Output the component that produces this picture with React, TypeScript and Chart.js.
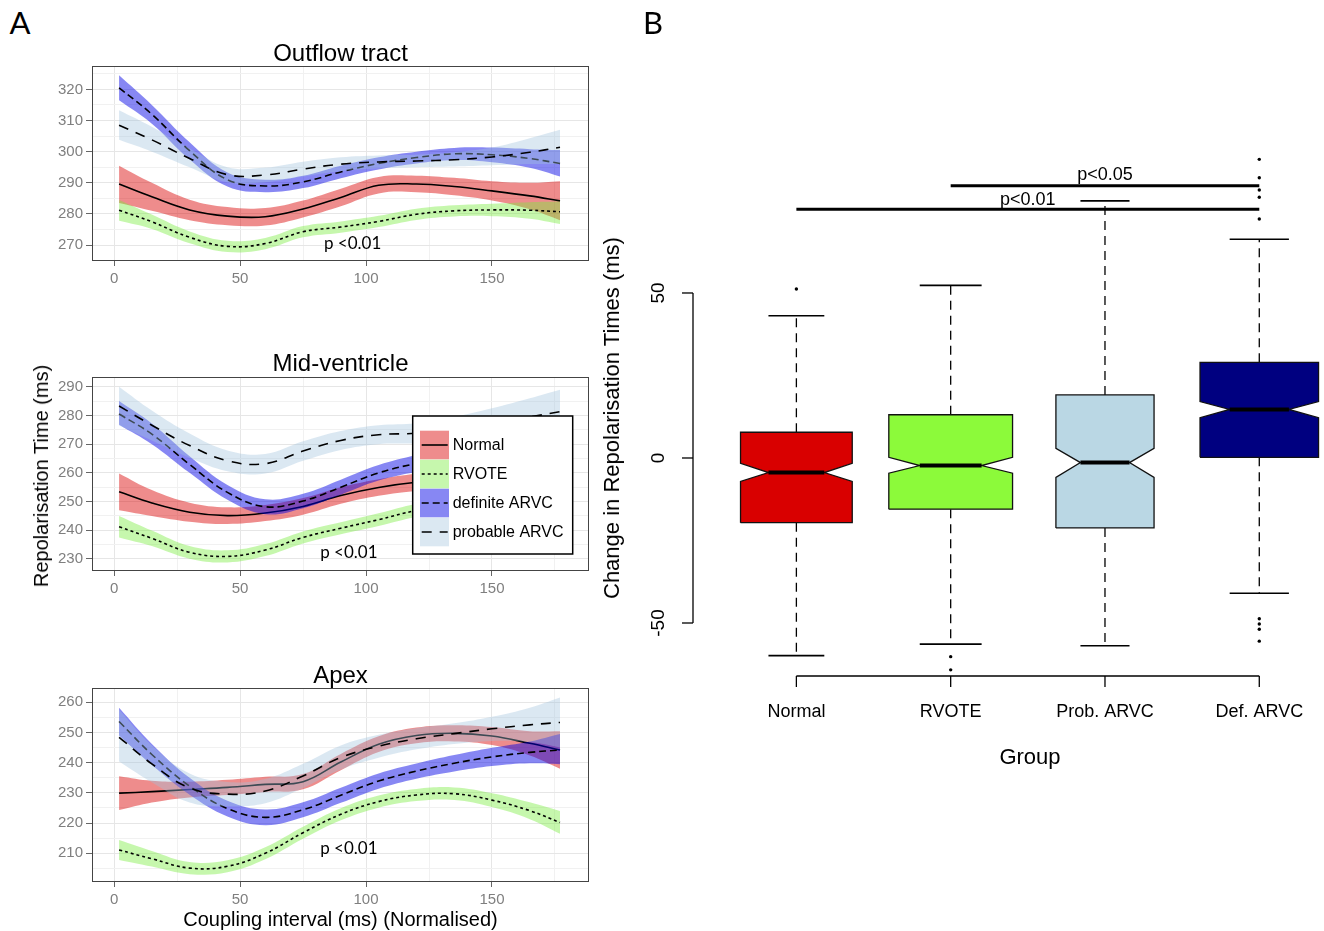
import React, { useEffect, useRef } from "react";
import { Chart, registerables } from "chart.js";

Chart.register(...registerables);

const FONT = '"Liberation Sans", Arial, Helvetica, sans-serif';
const NOTE_FONT = 'Lato, "Liberation Sans", Arial, sans-serif';

// ---------------- Panel A data ----------------
const couplingX = [2, 15, 30, 45, 60, 75, 90, 105, 120, 135, 150, 165, 177];
const groupLabels = ["Normal", "RVOTE", "definite ARVC", "probable ARVC"];
const xTickLabels = [0, 50, 100, 150];
const xMinorTicks = [25, 75, 125, 175];
const noteText = "p <0.01";

// Outflow tract
const outflowTicks = [270, 280, 290, 300, 310, 320];
const outflowMinorTicks = [265, 275, 285, 295, 305, 315, 325];
const outflowNormalMean = [289.6, 285.5, 281.3, 279.3, 279.1, 281.6, 285.3, 289.2, 289.6, 288.8, 287.4, 285.8, 284.2];
const outflowNormalLow = [283.5, 281.0, 278.0, 276.4, 276.3, 278.9, 282.5, 286.6, 287.0, 286.0, 284.3, 281.5, 278.0];
const outflowNormalHigh = [295.5, 290.0, 284.6, 282.2, 281.9, 284.3, 288.1, 291.9, 292.3, 291.6, 290.5, 290.0, 290.5];
const outflowRvoteMean = [281.2, 277.5, 272.5, 269.6, 270.5, 274.3, 275.8, 277.6, 279.9, 281.0, 281.3, 281.2, 280.7];
const outflowRvoteLow = [277.8, 275.2, 270.6, 267.8, 268.7, 272.5, 274.0, 275.8, 278.1, 279.2, 279.3, 278.5, 276.8];
const outflowRvoteHigh = [284.5, 279.8, 274.4, 271.4, 272.3, 276.1, 277.6, 279.4, 281.7, 282.8, 283.3, 283.8, 284.0];
const outflowDefMean = [320.5, 312.0, 300.3, 291.0, 289.0, 290.3, 293.5, 296.2, 298.1, 299.3, 299.0, 297.8, 296.2];
const outflowDefLow = [316.5, 309.0, 297.5, 288.8, 287.0, 288.3, 291.5, 294.3, 296.2, 297.3, 296.6, 294.8, 292.0];
const outflowDefHigh = [324.5, 315.0, 303.0, 293.3, 291.0, 292.3, 295.5, 298.2, 300.0, 301.2, 301.3, 300.8, 300.5];
const outflowProbMean = [308.5, 303.8, 297.8, 292.6, 292.5, 294.4, 296.0, 296.7, 297.0, 297.4, 298.3, 299.8, 301.4];
const outflowProbLow = [303.8, 300.0, 295.0, 290.2, 290.2, 292.0, 293.8, 294.7, 295.0, 295.2, 295.6, 296.0, 296.0];
const outflowProbHigh = [313.3, 308.0, 301.0, 295.0, 294.9, 296.8, 298.2, 298.8, 299.0, 299.8, 301.3, 304.3, 307.0];

// Mid-ventricle
const midTicks = [230, 240, 250, 260, 270, 280, 290];
const midMinorTicks = [235, 245, 255, 265, 275, 285];
const midNormalMean = [253.4, 249.5, 246.3, 245.1, 246.0, 248.3, 252.1, 254.9, 256.7, 257.5, 258.0, 258.0, 258.0];
const midNormalLow = [247.0, 245.0, 243.0, 242.2, 243.2, 245.4, 249.2, 252.0, 253.7, 254.3, 254.5, 254.0, 253.5];
const midNormalHigh = [259.8, 254.0, 249.6, 248.0, 248.8, 251.2, 255.0, 257.8, 259.7, 260.7, 261.5, 262.0, 262.5];
const midRvoteMean = [241.2, 237.2, 232.3, 230.9, 233.1, 237.5, 240.7, 243.7, 246.9, 249.0, 251.0, 252.0, 252.5];
const midRvoteLow = [237.5, 234.5, 230.1, 228.8, 231.0, 235.4, 238.6, 241.5, 244.6, 246.5, 248.3, 249.0, 249.0];
const midRvoteHigh = [245.0, 239.9, 234.5, 233.0, 235.2, 239.6, 242.8, 245.9, 249.2, 251.5, 253.7, 255.0, 256.0];
const midDefMean = [280.5, 273.5, 262.9, 253.2, 248.2, 250.2, 255.0, 260.0, 263.2, 265.0, 266.2, 267.2, 268.0];
const midDefLow = [276.8, 270.0, 260.0, 250.6, 245.6, 247.7, 252.4, 257.3, 260.3, 262.0, 263.0, 263.6, 264.0];
const midDefHigh = [285.0, 277.2, 265.8, 255.8, 250.8, 252.7, 257.6, 262.7, 266.1, 268.0, 269.4, 270.8, 272.0];
const midProbMean = [283.3, 276.6, 269.5, 264.2, 263.2, 267.6, 271.3, 273.3, 273.8, 275.5, 277.5, 279.5, 281.3];
const midProbLow = [276.5, 271.3, 265.3, 260.6, 259.8, 264.2, 268.0, 270.0, 270.3, 271.5, 272.5, 273.0, 273.3];
const midProbHigh = [290.0, 281.7, 273.7, 267.8, 266.6, 271.0, 274.6, 276.6, 277.3, 279.5, 282.5, 286.0, 289.0];

// Apex
const apexTicks = [210, 220, 230, 240, 250, 260];
const apexMinorTicks = [205, 215, 225, 235, 245, 255];
const apexNormalMean = [229.9, 230.4, 231.1, 231.8, 232.8, 233.7, 240.2, 246.1, 249.0, 249.7, 248.8, 246.4, 244.2];
const apexNormalLow = [224.3, 226.8, 228.5, 229.3, 230.3, 231.2, 237.5, 243.5, 246.4, 247.0, 245.8, 242.4, 238.0];
const apexNormalHigh = [235.5, 234.0, 233.7, 234.3, 235.3, 236.2, 242.9, 248.7, 251.6, 252.4, 251.8, 250.4, 250.4];
const apexRvoteMean = [211.1, 208.2, 205.1, 205.7, 210.0, 216.8, 222.9, 227.1, 229.3, 229.7, 227.6, 224.1, 220.2];
const apexRvoteLow = [207.8, 205.6, 203.1, 203.7, 208.0, 214.8, 220.9, 225.1, 227.3, 227.6, 225.3, 221.3, 216.5];
const apexRvoteHigh = [214.4, 210.8, 207.1, 207.7, 212.0, 218.8, 224.9, 229.1, 231.3, 231.8, 229.9, 226.9, 224.0];
const apexDefMean = [253.6, 242.7, 232.2, 224.8, 221.9, 224.4, 229.2, 233.9, 237.2, 239.8, 241.9, 243.4, 244.2];
const apexDefLow = [249.0, 239.2, 229.4, 222.2, 219.3, 221.9, 226.7, 231.4, 234.7, 237.1, 238.9, 239.8, 239.5];
const apexDefHigh = [258.2, 246.2, 235.0, 227.4, 224.5, 226.9, 231.7, 236.4, 239.7, 242.5, 244.9, 247.0, 249.5];
const apexProbMean = [248.4, 239.6, 231.6, 229.6, 230.6, 235.6, 241.7, 245.4, 247.9, 249.6, 251.2, 252.5, 253.3];
const apexProbLow = [240.4, 233.5, 226.8, 225.6, 226.6, 231.6, 237.7, 241.6, 244.4, 246.2, 247.2, 246.8, 245.0];
const apexProbHigh = [257.5, 245.7, 236.4, 233.6, 234.6, 239.6, 245.7, 249.2, 251.4, 253.0, 255.2, 258.2, 261.6];

// ---------------- Panel B data ----------------
const boxGroups = ["Normal", "RVOTE", "Prob. ARVC", "Def. ARVC"];
const boxLowerWhisker = [-59.9, -56.4, -56.9, -41.0];
const boxQ1 = [-19.6, -15.5, -21.2, 0.2];
const boxNotchLow = [-7.1, -4.6, -5.9, 12.2];
const boxMedian = [-4.4, -2.3, -1.4, 14.7];
const boxNotchHigh = [-1.6, 0.2, 2.9, 17.1];
const boxQ3 = [7.8, 13.1, 19.1, 29.0];
const boxUpperWhisker = [43.1, 52.3, 77.9, 66.3];
const outlierGroup = [0, 1, 1, 3, 3, 3, 3, 3, 3, 3, 3, 3];
const outlierValue = [51.2, -60.2, -64.2, 90.5, 84.9, 81.2, 79.0, 72.4, -48.7, -50.3, -51.9, -55.5];
const changeTicks = [-50, 0, 50];
const sigFrom = [1, 0];
const sigTo = [3, 3];
const sigLevel = [82.5, 75.4];
const sigText = ["p<0.05", "p<0.01"];

// ---------------- styles ----------------
const bandColors = ["rgba(217,0,0,0.45)", "rgba(120,235,60,0.42)", "rgba(0,0,230,0.47)", "rgba(160,195,220,0.38)"];
const lineDashes: number[][] = [[], [3, 3], [7, 4], [10, 8]];
const boxColors = ["#D90000", "#8CFA3A", "#BAD7E4", "#000080"];
const boxHalfWidth = [0.362, 0.401, 0.318, 0.384];
const NOTCH_FRACTION = 0.5;
const sigLabelAt = [[2.0, 85.6], [1.5, 78.3]];
const CURVE_TENSION = 0.4;

type PanelSpec = {
  yMin: number; yMax: number; ticks: number[]; minor: number[];
  series: number[][][]; note: number[]; areaTop: number; areaBottom: number; legend: boolean;
};

const panelSpecs: PanelSpec[] = [
  {
    yMin: 264.9, yMax: 327.5, ticks: outflowTicks, minor: outflowMinorTicks,
    series: [
      [outflowNormalLow, outflowNormalMean, outflowNormalHigh],
      [outflowRvoteLow, outflowRvoteMean, outflowRvoteHigh],
      [outflowDefLow, outflowDefMean, outflowDefHigh],
      [outflowProbLow, outflowProbMean, outflowProbHigh],
    ],
    note: [94.7, 270.5], areaTop: 66, areaBottom: 261, legend: false,
  },
  {
    yMin: 225.8, yMax: 293.4, ticks: midTicks, minor: midMinorTicks,
    series: [
      [midNormalLow, midNormalMean, midNormalHigh],
      [midRvoteLow, midRvoteMean, midRvoteHigh],
      [midDefLow, midDefMean, midDefHigh],
      [midProbLow, midProbMean, midProbHigh],
    ],
    note: [93.2, 232.2], areaTop: 377, areaBottom: 571, legend: true,
  },
  {
    yMin: 200.5, yMax: 264.7, ticks: apexTicks, minor: apexMinorTicks,
    series: [
      [apexNormalLow, apexNormalMean, apexNormalHigh],
      [apexRvoteLow, apexRvoteMean, apexRvoteHigh],
      [apexDefLow, apexDefMean, apexDefHigh],
      [apexProbLow, apexProbMean, apexProbHigh],
    ],
    note: [93.2, 211.7], areaTop: 688, areaBottom: 882, legend: false,
  },
];

const PANEL_PAD_TOP = 20;
const PANEL_XAXIS_H = 36;
const PANEL_W = 600;

const toXY = (ys: number[]) => ys.map((y, i) => ({ x: couplingX[i], y }));

function PanelChart({ spec }: { spec: PanelSpec }) {
  const ref = useRef<HTMLCanvasElement | null>(null);
  const height = spec.areaBottom - spec.areaTop + PANEL_PAD_TOP + PANEL_XAXIS_H;
  useEffect(() => {
    if (!ref.current) return;
    const datasets: any[] = [];
    spec.series.forEach((s, g) => {
      const [low, mean, high] = s;
      const common = { pointRadius: 0, tension: CURVE_TENSION };
      datasets.push({ ...common, data: toXY(low), borderColor: "transparent", borderWidth: 0, fill: false, order: 20 });
      datasets.push({ ...common, data: toXY(high), borderColor: "transparent", borderWidth: 0, fill: "-1", backgroundColor: bandColors[g], order: 8 - 2 * g });
      datasets.push({ ...common, data: toXY(mean), borderColor: "#000", borderWidth: 1.6, borderDash: lineDashes[g], fill: false, order: 7 - 2 * g });
    });
    const isMajorX = (v: number) => xTickLabels.includes(v);
    const isMajorY = (v: number) => spec.ticks.includes(v);
    const decor = {
      id: "panelDecor",
      afterDatasetsDraw(chart: any) {
        const { ctx, chartArea: a, scales } = chart;
        ctx.save();
        ctx.strokeStyle = "#444";
        ctx.lineWidth = 1;
        ctx.strokeRect(a.left + 0.5, a.top + 0.5, a.right - a.left - 1, a.bottom - a.top - 1);
        ctx.fillStyle = "#000";
        ctx.font = `17px ${NOTE_FONT}`;
        ctx.textAlign = "center";
        ctx.textBaseline = "middle";
        ctx.fillText(noteText, scales.x.getPixelForValue(spec.note[0]), scales.y.getPixelForValue(spec.note[1]));
        if (spec.legend) {
          const lx = a.left + 320.7, ly = a.top + 39, lw = 160, lh = 138;
          ctx.fillStyle = "#fff";
          ctx.fillRect(lx, ly, lw, lh);
          ctx.strokeStyle = "#000";
          ctx.lineWidth = 1.5;
          ctx.strokeRect(lx, ly, lw, lh);
          groupLabels.forEach((name, g) => {
            const ry = ly + 14.7 + g * 29;
            ctx.fillStyle = bandColors[g];
            ctx.fillRect(lx + 7.3, ry, 29, 28.6);
            ctx.strokeStyle = "#000";
            ctx.lineWidth = 1.6;
            ctx.setLineDash(lineDashes[g]);
            ctx.beginPath();
            ctx.moveTo(lx + 9, ry + 14.3);
            ctx.lineTo(lx + 35, ry + 14.3);
            ctx.stroke();
            ctx.setLineDash([]);
            ctx.fillStyle = "#000";
            ctx.font = `16px ${FONT}`;
            ctx.textAlign = "left";
            ctx.textBaseline = "middle";
            ctx.fillText(name, lx + 40, ry + 14.6);
          });
        }
        ctx.restore();
      },
    };
    const chart = new Chart(ref.current, {
      type: "line",
      data: { datasets },
      options: {
        responsive: false,
        animation: false,
        events: [],
        layout: { padding: { top: PANEL_PAD_TOP, left: 0, right: PANEL_W - 589, bottom: 0 } },
        plugins: { legend: { display: false }, tooltip: { enabled: false }, title: { display: false } },
        scales: {
          x: {
            type: "linear",
            min: -8.75,
            max: 188.5,
            afterBuildTicks: (s: any) => {
              s.ticks = [...xTickLabels, ...xMinorTicks].sort((p, q) => p - q).map((v) => ({ value: v }));
            },
            afterFit: (s: any) => { s.height = PANEL_XAXIS_H; },
            ticks: {
              autoSkip: false, maxRotation: 0, minRotation: 0, padding: 4, color: "#7f7f7f",
              font: { family: FONT, size: 15 },
              callback: (v: any) => (isMajorX(v) ? String(v) : ""),
            },
            grid: {
              color: (c: any) => (c.tick && isMajorX(c.tick.value) ? "#e6e6e6" : "#f1f1f1"),
              tickColor: (c: any) => (c.tick && isMajorX(c.tick.value) ? "#666" : "rgba(0,0,0,0)"),
              tickLength: 5,
              lineWidth: 1,
            },
            border: { display: false },
          },
          y: {
            type: "linear",
            min: spec.yMin,
            max: spec.yMax,
            afterBuildTicks: (s: any) => {
              s.ticks = [...spec.ticks, ...spec.minor].sort((p, q) => p - q).map((v) => ({ value: v }));
            },
            afterFit: (s: any) => { s.width = 92; },
            ticks: {
              autoSkip: false, padding: 3, color: "#7f7f7f",
              font: { family: FONT, size: 15 },
              callback: (v: any) => (isMajorY(v) ? String(v) : ""),
            },
            grid: {
              color: (c: any) => (c.tick && isMajorY(c.tick.value) ? "#e6e6e6" : "#f1f1f1"),
              tickColor: (c: any) => (c.tick && isMajorY(c.tick.value) ? "#666" : "rgba(0,0,0,0)"),
              tickLength: 6,
              lineWidth: 1,
            },
            border: { display: false },
          },
        },
      },
      plugins: [decor],
    } as any);
    return () => chart.destroy();
  }, [spec]);
  return (
    <canvas
      ref={ref}
      width={PANEL_W}
      height={height}
      style={{ position: "absolute", left: 0, top: spec.areaTop - PANEL_PAD_TOP, width: PANEL_W, height }}
    />
  );
}

const BOX_LEFT = 590;
const BOX_W = 734;
const BOX_H = 931;

function BoxChart() {
  const ref = useRef<HTMLCanvasElement | null>(null);
  useEffect(() => {
    if (!ref.current) return;
    const ds: any[] = [];
    boxGroups.forEach((_, i) => {
      const w = boxHalfWidth[i];
      const n = w * NOTCH_FRACTION;
      const outline = [
        { x: i - w, y: boxQ1[i] }, { x: i - w, y: boxNotchLow[i] }, { x: i - n, y: boxMedian[i] },
        { x: i - w, y: boxNotchHigh[i] }, { x: i - w, y: boxQ3[i] }, { x: i + w, y: boxQ3[i] },
        { x: i + w, y: boxNotchHigh[i] }, { x: i + n, y: boxMedian[i] }, { x: i + w, y: boxNotchLow[i] },
        { x: i + w, y: boxQ1[i] }, { x: i - w, y: boxQ1[i] },
      ];
      const base = { pointRadius: 0, fill: false, borderColor: "#000", tension: 0 };
      ds.push({ ...base, data: [{ x: i, y: boxQ3[i] }, { x: i, y: boxUpperWhisker[i] }], borderWidth: 1.3, borderDash: [9, 6], order: 10 });
      ds.push({ ...base, data: [{ x: i, y: boxQ1[i] }, { x: i, y: boxLowerWhisker[i] }], borderWidth: 1.3, borderDash: [9, 6], order: 10 });
      ds.push({ ...base, data: [{ x: i - n, y: boxUpperWhisker[i] }, { x: i + n, y: boxUpperWhisker[i] }], borderWidth: 1.6, order: 9 });
      ds.push({ ...base, data: [{ x: i - n, y: boxLowerWhisker[i] }, { x: i + n, y: boxLowerWhisker[i] }], borderWidth: 1.6, order: 9 });
      ds.push({ ...base, data: outline, fill: "shape", backgroundColor: boxColors[i], borderColor: "#111", borderWidth: 1.3, order: 6 });
      ds.push({ ...base, data: [{ x: i - n, y: boxMedian[i] }, { x: i + n, y: boxMedian[i] }], borderWidth: 4, order: 5 });
    });
    ds.push({
      data: outlierGroup.map((g, k) => ({ x: g, y: outlierValue[k] })),
      showLine: false, pointRadius: 1.7, pointBackgroundColor: "#000", pointBorderWidth: 0, clip: false, order: 4,
    });
    sigText.forEach((_, k) => {
      ds.push({
        data: [{ x: sigFrom[k], y: sigLevel[k] }, { x: sigTo[k], y: sigLevel[k] }],
        pointRadius: 0, fill: false, borderColor: "#000", borderWidth: 3, order: 3,
      });
    });
    const axes = {
      id: "rAxes",
      afterDraw(chart: any) {
        const { ctx, chartArea: a, scales } = chart;
        const x = scales.x, y = scales.y;
        ctx.save();
        ctx.strokeStyle = "#000";
        ctx.fillStyle = "#000";
        ctx.lineWidth = 1.3;
        const ax = a.left;
        ctx.beginPath();
        ctx.moveTo(ax, y.getPixelForValue(changeTicks[0]));
        ctx.lineTo(ax, y.getPixelForValue(changeTicks[changeTicks.length - 1]));
        ctx.stroke();
        ctx.font = `19px ${FONT}`;
        ctx.textAlign = "center";
        ctx.textBaseline = "middle";
        changeTicks.forEach((v) => {
          const py = y.getPixelForValue(v);
          ctx.beginPath();
          ctx.moveTo(ax - 11, py);
          ctx.lineTo(ax, py);
          ctx.stroke();
          ctx.save();
          ctx.translate(ax - 34, py);
          ctx.rotate(-Math.PI / 2);
          ctx.fillText(String(v), 0, 0);
          ctx.restore();
        });
        const by = a.bottom;
        ctx.beginPath();
        ctx.moveTo(x.getPixelForValue(0), by);
        ctx.lineTo(x.getPixelForValue(boxGroups.length - 1), by);
        ctx.stroke();
        ctx.font = `18px ${FONT}`;
        boxGroups.forEach((name, i) => {
          const px = x.getPixelForValue(i);
          ctx.beginPath();
          ctx.moveTo(px, by);
          ctx.lineTo(px, by + 11);
          ctx.stroke();
          ctx.fillText(name, px, by + 36);
        });
        ctx.font = `18px ${FONT}`;
        sigText.forEach((t, k) => {
          ctx.fillText(t, x.getPixelForValue(sigLabelAt[k][0]), y.getPixelForValue(sigLabelAt[k][1]));
        });
        ctx.restore();
      },
    };
    const chart = new Chart(ref.current, {
      type: "line",
      data: { datasets: ds },
      options: {
        responsive: false,
        animation: false,
        events: [],
        layout: { padding: { top: 159, left: 693 - BOX_LEFT, right: 0, bottom: BOX_H - 676 } },
        plugins: { legend: { display: false }, tooltip: { enabled: false } },
        elements: { point: { radius: 0 } },
        scales: {
          x: { type: "linear", min: -0.67, max: 3.3935, display: false },
          y: { type: "linear", min: -66.06, max: 90.6, display: false },
        },
      },
      plugins: [axes],
    } as any);
    return () => chart.destroy();
  }, []);
  return (
    <canvas
      ref={ref}
      width={BOX_W}
      height={BOX_H}
      style={{ position: "absolute", left: BOX_LEFT, top: 0, width: BOX_W, height: BOX_H }}
    />
  );
}

function Txt({ x, y, size, text, rotate = false, family = FONT }: { x: number; y: number; size: number; text: string; rotate?: boolean; family?: string }) {
  return (
    <div
      style={{
        position: "absolute", left: x, top: y,
        transform: `translate(-50%, -50%)${rotate ? " rotate(-90deg)" : ""}`,
        fontSize: size, fontFamily: family, lineHeight: 1, whiteSpace: "nowrap", color: "#000",
      }}
    >
      {text}
    </div>
  );
}

export default function App() {
  return (
    <div style={{ position: "absolute", left: 0, top: 0, width: 1324, height: 931, background: "#fff", overflow: "hidden" }}>
      {panelSpecs.map((s, i) => (
        <PanelChart key={i} spec={s} />
      ))}
      <BoxChart />
      <Txt x={20} y={22} size={31} text="A" family={NOTE_FONT} />
      <Txt x={653} y={22} size={31} text="B" family={NOTE_FONT} />
      <Txt x={340.5} y={53} size={24} text="Outflow tract" />
      <Txt x={340.5} y={363} size={24} text="Mid-ventricle" />
      <Txt x={340.5} y={675} size={24} text="Apex" />
      <Txt x={340.5} y={919} size={20} text="Coupling interval (ms) (Normalised)" />
      <Txt x={41} y={476} size={20} text="Repolarisation Time (ms)" rotate />
      <Txt x={612} y={417.5} size={22} text="Change in Repolarisation Times (ms)" rotate />
      <Txt x={1030} y={757} size={22} text="Group" />
    </div>
  );
}
